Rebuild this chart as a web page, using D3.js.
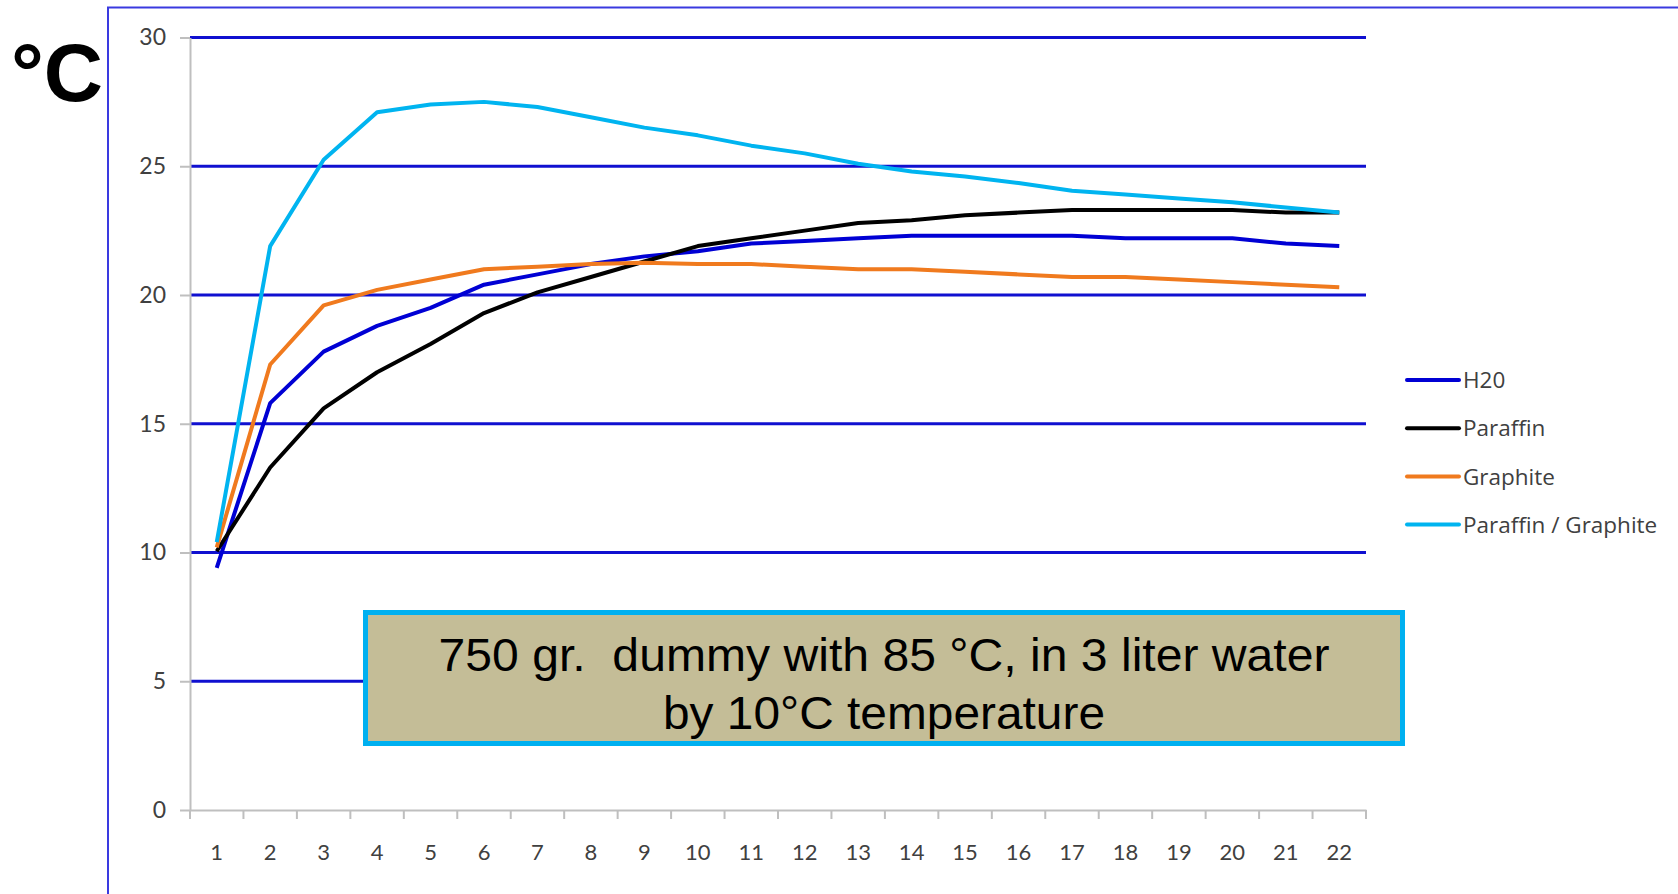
<!DOCTYPE html>
<html>
<head>
<meta charset="utf-8">
<script src="https://cdn.jsdelivr.net/npm/d3@7"></script>
<style>
  body { margin: 0; background: #fff; }
  svg { display: block; }
</style>
</head>
<body>
<script>
// data
const categories = d3.range(1, 23).map(String);
const h2o = [9.4, 15.8, 17.8, 18.8, 19.5, 20.4, 20.8, 21.2, 21.5, 21.7, 22.0, 22.1, 22.2, 22.3, 22.3, 22.3, 22.3, 22.2, 22.2, 22.2, 22.0, 21.9];
const paraffin = [10.05, 13.3, 15.6, 17.0, 18.1, 19.3, 20.1, 20.7, 21.3, 21.9, 22.2, 22.5, 22.8, 22.9, 23.1, 23.2, 23.3, 23.3, 23.3, 23.3, 23.2, 23.2];
const graphite = [10.2, 17.3, 19.6, 20.2, 20.6, 21.0, 21.1, 21.2, 21.25, 21.2, 21.2, 21.1, 21.0, 21.0, 20.9, 20.8, 20.7, 20.7, 20.6, 20.5, 20.4, 20.3];
const parGraphite = [10.4, 21.9, 25.25, 27.1, 27.4, 27.5, 27.3, 26.9, 26.5, 26.2, 25.8, 25.5, 25.1, 24.8, 24.6, 24.35, 24.05, 23.9, 23.75, 23.6, 23.4, 23.2];
const yTicks = [0, 5, 10, 15, 20, 25, 30];
const seriesNames = ['H20', 'Paraffin', 'Graphite', 'Paraffin / Graphite'];
const seriesColors = ['#0000d4', '#000000', '#f07a1e', '#00b4f0'];
const noteLines = ['750 gr.  dummy with 85 °C, in 3 liter water', 'by 10°C temperature'];

const series = [h2o, paraffin, graphite, parGraphite].map((values, i) => ({
  name: seriesNames[i],
  color: seriesColors[i],
  values: values
}));

const width = 1678;
const height = 894;

const svg = d3.select('body').append('svg')
  .attr('width', width)
  .attr('height', height);

const x = d3.scaleBand().domain(categories).range([190, 1366]);
const y = d3.scaleLinear().domain([0, 30]).range([810, 37.5]);
const cx = c => x(c) + x.bandwidth() / 2;

// outer frame (left and top)
svg.append('path')
  .attr('d', `M108,${height}V7.5H${width}`)
  .attr('fill', 'none')
  .attr('stroke', '#3a3ae0')
  .attr('stroke-width', 2);

// degree label
svg.append('text')
  .attr('x', 11)
  .attr('y', 101)
  .attr('font-family', 'Liberation Sans, Arial, sans-serif')
  .attr('font-weight', 'bold')
  .attr('font-size', 82)
  .attr('fill', '#000')
  .text('°C');

// gridlines
svg.append('g')
  .selectAll('line')
  .data(yTicks.filter(d => d > 0))
  .enter().append('line')
  .attr('x1', x.range()[0])
  .attr('x2', x.range()[1])
  .attr('y1', d => y(d))
  .attr('y2', d => y(d))
  .attr('stroke', '#1010d0')
  .attr('stroke-width', 3);

// y axis
const yAxis = svg.append('g')
  .attr('transform', `translate(${x.range()[0]},0)`)
  .call(d3.axisLeft(y).tickValues(yTicks).tickSize(10).tickPadding(14).tickSizeOuter(0));
yAxis.select('.domain').attr('stroke', '#bfbfbf').attr('stroke-width', 2);
yAxis.selectAll('.tick line').attr('stroke', '#bfbfbf').attr('stroke-width', 2);
yAxis.selectAll('.tick text')
  .attr('fill', '#404040')
  .attr('font-family', 'Lato, sans-serif')
  .attr('font-size', 23);

// x axis: labels at band centres, ticks at band boundaries
const xAxis = svg.append('g')
  .attr('transform', `translate(0,${y(0)})`)
  .call(d3.axisBottom(x).tickSize(0).tickPadding(34).tickSizeOuter(0));
xAxis.select('.domain').attr('stroke', '#bfbfbf').attr('stroke-width', 2);
xAxis.selectAll('.tick text')
  .attr('fill', '#404040')
  .attr('font-family', 'Lato, sans-serif')
  .attr('font-size', 22);
xAxis.selectAll('line.bound')
  .data(d3.range(categories.length + 1))
  .enter().append('line')
  .attr('class', 'bound')
  .attr('x1', i => x.range()[0] + i * x.step())
  .attr('x2', i => x.range()[0] + i * x.step())
  .attr('y1', 0)
  .attr('y2', 9)
  .attr('stroke', '#bfbfbf')
  .attr('stroke-width', 2);

// lines
const line = d3.line()
  .x((d, i) => cx(categories[i]))
  .y(d => y(d));

svg.append('g')
  .selectAll('path')
  .data(series)
  .enter().append('path')
  .attr('d', d => line(d.values))
  .attr('fill', 'none')
  .attr('stroke', d => d.color)
  .attr('stroke-width', 4)
  .attr('stroke-linejoin', 'round');

// legend
const legend = svg.append('g')
  .selectAll('g')
  .data(series)
  .enter().append('g')
  .attr('transform', (d, i) => `translate(1407,${380 + i * 48.2})`);
legend.append('line')
  .attr('x1', 0)
  .attr('x2', 52)
  .attr('stroke', d => d.color)
  .attr('stroke-width', 4)
  .attr('stroke-linecap', 'round');
legend.append('text')
  .attr('x', 56)
  .attr('dy', '0.36em')
  .attr('fill', '#404040')
  .attr('font-family', 'Open Sans, sans-serif')
  .attr('font-size', 22.5)
  .text(d => d.name);

// annotation box
svg.append('rect')
  .attr('x', 365.5)
  .attr('y', 612.5)
  .attr('width', 1037)
  .attr('height', 131)
  .attr('fill', '#c4bd97')
  .attr('stroke', '#00b0f0')
  .attr('stroke-width', 5);

svg.append('g')
  .selectAll('text')
  .data(noteLines)
  .enter().append('text')
  .attr('x', 884)
  .attr('y', (d, i) => 671 + i * 58)
  .attr('text-anchor', 'middle')
  .style('white-space', 'pre')
  .attr('font-family', 'Liberation Sans Narrow, Liberation Sans, Arial, sans-serif')
  .attr('font-size', 47)
  .attr('fill', '#000')
  .attr('textLength', (d, i) => i === 0 ? 891 : 442)
  .attr('lengthAdjust', 'spacingAndGlyphs')
  .text(d => d);
</script>
</body>
</html>
